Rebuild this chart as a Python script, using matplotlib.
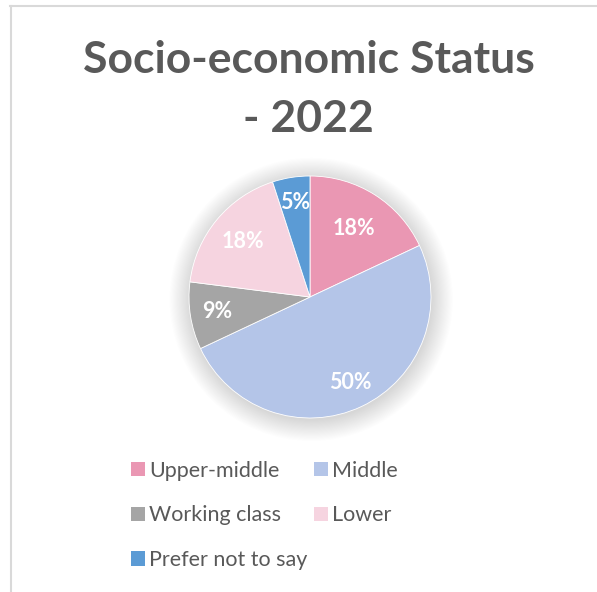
import matplotlib
matplotlib.use("Agg")
import matplotlib.pyplot as plt
from matplotlib.patches import Patch, Circle
from matplotlib.lines import Line2D
import numpy as np

plt.rcParams['font.family'] = ['Lato', 'DejaVu Sans']

# Socio-economic status shares, 2022 (percent)
categories = ['Upper-middle', 'Middle', 'Working class', 'Lower', 'Prefer not to say']
shares = [18, 50, 9, 18, 5]
colors = ['#EA97B3', '#B4C5E8', '#A5A5A5', '#F6D4E0', '#5B9BD5']
label_radius = [0.67, 0.78, 0.78, 0.72, 0.79]

text_grey = '#595959'

fig = plt.figure(figsize=(5.97, 5.92), dpi=100)
W, H = 597, 592

# thin chart border on the left and top
fig.add_artist(Line2D([10.5 / W, 10.5 / W], [0, 1 - 6 / H], color='#D9D9D9',
                      lw=1.5, transform=fig.transFigure))
fig.add_artist(Line2D([10 / W, 1], [1 - 6 / H, 1 - 6 / H], color='#D9D9D9',
                      lw=1.5, transform=fig.transFigure))

fig.text(309 / W, 1 - 60 / H, 'Socio-economic Status', ha='center', va='center',
         fontsize=32, fontweight='bold', color=text_grey)
fig.text(308 / W, 1 - 119 / H, '- 2022', ha='center', va='center',
         fontsize=32, fontweight='bold', color=text_grey)

# pie axes: radius 1 == 121 px, centred at (310, 297)
r_px, cx, cy = 121, 310, 297
half = 1.25 * r_px
ax = fig.add_axes([(cx - half) / W, (H - cy - half) / H, 2 * half / W, 2 * half / H])

# soft shadow behind the pie
for k in range(20):
    ax.add_patch(Circle((0.01, -0.02), 1.0 + 0.009 * k, color='black',
                        alpha=0.009, lw=0, zorder=0, clip_on=False))

wedges, texts, autotexts = ax.pie(
    shares, colors=colors, startangle=90, counterclock=False,
    autopct='%1.0f%%', pctdistance=0.75,
    wedgeprops=dict(linewidth=0.6, edgecolor='white'),
    textprops=dict(color='white', fontsize=15.5, fontweight='bold'))

# put each percentage along its slice's mid-angle
theta = 90 - (np.cumsum(shares) - np.array(shares) / 2) / sum(shares) * 360
for t, ang, rr in zip(autotexts, theta, label_radius):
    t.set_position((rr * np.cos(np.radians(ang)), rr * np.sin(np.radians(ang))))

ax.set_xlim(-1.25, 1.25)
ax.set_ylim(-1.25, 1.25)
ax.set_aspect('equal')
ax.axis('off')

# legend: two columns, filled column-wise
order = [0, 2, 4, 1, 3]
handles = [Patch(facecolor=colors[i], edgecolor='none') for i in order]
labels = [categories[i] for i in order]
fig.legend(handles, labels, loc='upper left', bbox_to_anchor=(122 / W, 1 - 452 / H),
           ncol=2, frameon=False, fontsize=15.5, labelcolor=text_grey,
           handlelength=0.65, handleheight=0.65, handletextpad=0.2,
           labelspacing=1.15, columnspacing=0.3, borderaxespad=0)

fig.savefig('out.png', dpi=100)
